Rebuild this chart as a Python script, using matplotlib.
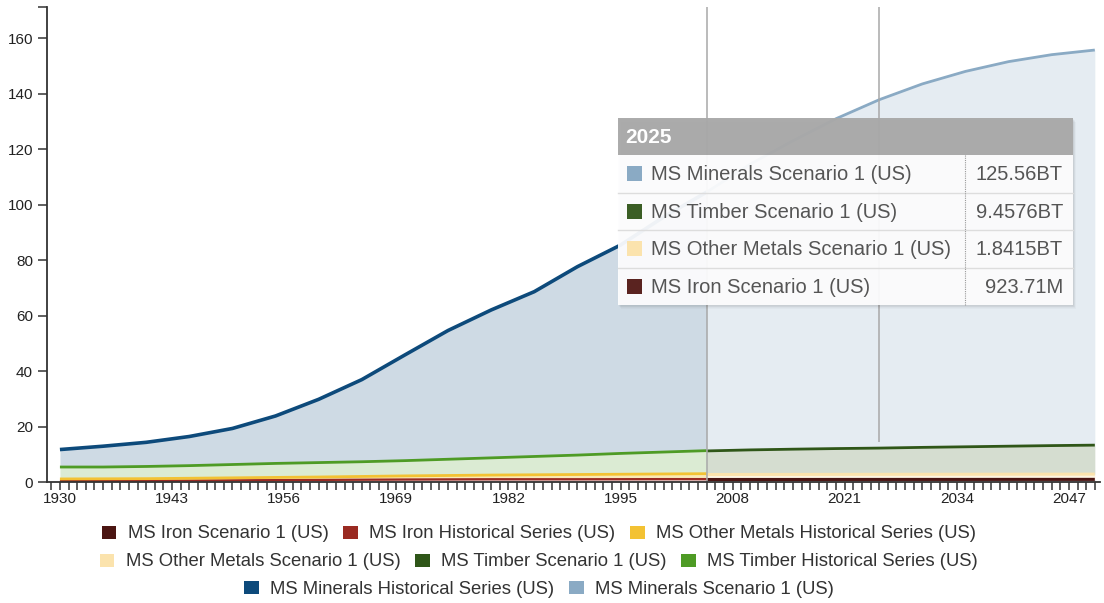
import matplotlib
matplotlib.use("Agg")
import matplotlib.pyplot as plt
from matplotlib.patches import Rectangle, Patch
from matplotlib.ticker import MultipleLocator, FixedLocator
import numpy as np

plt.rcParams["font.family"] = ["Liberation Sans", "DejaVu Sans"]

# historical series (1930-2005), billion tonnes
years_hist = [1930, 1935, 1940, 1945, 1950, 1955, 1960, 1965,
              1970, 1975, 1980, 1985, 1990, 1995, 2000, 2005]
iron_hist = [0.40, 0.42, 0.45, 0.50, 0.60, 0.68, 0.75, 0.82,
             0.90, 0.95, 1.00, 1.00, 1.00, 1.02, 1.05, 1.05]
other_hist = [0.70, 0.73, 0.75, 0.85, 0.90, 0.97, 1.05, 1.18,
              1.30, 1.40, 1.50, 1.60, 1.70, 1.78, 1.85, 1.95]
timber_hist = [4.30, 4.25, 4.40, 4.55, 4.80, 5.05, 5.20, 5.30,
               5.50, 5.85, 6.20, 6.60, 7.00, 7.50, 7.90, 8.30]
minerals_hist = [6.3, 7.5, 8.7, 10.5, 13.0, 17.1, 22.8, 29.6,
                 38.1, 46.4, 53.3, 59.4, 67.9, 75.1, 84.7, 93.2]

# scenario 1 (2005-2050)
years_scn = [2005, 2010, 2015, 2020, 2025, 2030, 2035, 2040, 2045, 2050]
iron_scn = [0.90, 0.91, 0.91, 0.92, 0.92371, 0.93, 0.93, 0.94, 0.94, 0.95]
other_scn = [1.80, 1.81, 1.82, 1.83, 1.8415, 1.85, 1.86, 1.87, 1.88, 1.89]
timber_scn = [8.50, 8.85, 9.10, 9.30, 9.4576, 9.70, 9.90, 10.10, 10.30, 10.45]
minerals_scn = [93.3, 102.9, 111.2, 118.9, 125.56, 131.0, 135.3, 138.6, 140.9, 142.4]

tooltip_year = 2025
boundary_year = 2005

C_IRON_SCN = "#4b1512"
C_IRON_HIST = "#9a2a22"
C_OTHER_HIST = "#f3c233"
C_OTHER_SCN = "#fbe3ad"
C_TIMBER_SCN = "#2f5618"
C_TIMBER_HIST = "#4e9b25"
C_MIN_HIST = "#0d4a7b"
C_MIN_SCN = "#8aaac4"
TEXT = "#333333"

fig = plt.figure(figsize=(11.04, 6.03), dpi=100)
ax = fig.add_axes([47 / 1104, 1 - 482 / 603, 1053 / 1104, 475 / 603])


def draw_stack(years, layers, colors, fill_alpha, widths):
    cum = np.cumsum(np.vstack(layers), axis=0)
    lower = np.zeros(len(years))
    for i, top in enumerate(cum):
        ax.fill_between(years, lower, top, color=colors[i],
                        alpha=fill_alpha[i], lw=0, zorder=1)
        lower = top
    for i, top in enumerate(cum):
        ax.plot(years, top, color=colors[i], lw=widths[i], zorder=3,
                solid_capstyle="butt", solid_joinstyle="round")


draw_stack(years_hist, [iron_hist, other_hist, timber_hist, minerals_hist],
           [C_IRON_HIST, C_OTHER_HIST, C_TIMBER_HIST, C_MIN_HIST],
           [0.25, 0.35, 0.2, 0.2], [1.6, 2.0, 2.0, 2.6])
draw_stack(years_scn, [iron_scn, other_scn, timber_scn, minerals_scn],
           [C_IRON_SCN, C_OTHER_SCN, C_TIMBER_SCN, C_MIN_SCN],
           [0.25, 0.35, 0.2, 0.22], [2.2, 2.2, 2.0, 2.0])

ymax = 171.2
ax.set_xlim(1928.5, 2050.6)
ax.set_ylim(0, ymax)

ax.axvline(boundary_year, color="#a8a8a8", lw=1.1, zorder=4)
ax.vlines(tooltip_year, 14.4, ymax, color="#a8a8a8", lw=1.1, zorder=4)

for s in ["top", "right"]:
    ax.spines[s].set_visible(False)
for s in ["left", "bottom"]:
    ax.spines[s].set_color(TEXT)
    ax.spines[s].set_linewidth(1.3)
    ax.spines[s].set_zorder(5)

ax.xaxis.set_major_locator(FixedLocator(list(range(1930, 2050, 13))))
ax.xaxis.set_minor_locator(MultipleLocator(1))
ax.yaxis.set_major_locator(FixedLocator(list(range(0, 161, 20)) + [ymax]))
ax.set_yticklabels([str(v) for v in range(0, 161, 20)] + [""])
ax.tick_params(axis="both", which="both", direction="out", color=TEXT,
               labelcolor="#222222", labelsize=11, width=1.1)
ax.tick_params(axis="x", which="both", length=6, pad=1.5)
ax.tick_params(axis="y", length=6.5, pad=3.5)
ax.set_facecolor("none")

# legend, three centred rows
rows = [
    [("MS Iron Scenario 1 (US)", C_IRON_SCN),
     ("MS Iron Historical Series (US)", C_IRON_HIST),
     ("MS Other Metals Historical Series (US)", C_OTHER_HIST)],
    [("MS Other Metals Scenario 1 (US)", C_OTHER_SCN),
     ("MS Timber Scenario 1 (US)", C_TIMBER_SCN),
     ("MS Timber Historical Series (US)", C_TIMBER_HIST)],
    [("MS Minerals Historical Series (US)", C_MIN_HIST),
     ("MS Minerals Scenario 1 (US)", C_MIN_SCN)],
]
row_y = [534, 562, 589]
for items, yy in zip(rows, row_y):
    handles = [Patch(facecolor=c, edgecolor="none") for _, c in items]
    labels = [t for t, _ in items]
    leg = fig.legend(handles, labels, loc="center",
                     bbox_to_anchor=(0.488, 1 - yy / 603), ncol=len(items),
                     frameon=False, fontsize=13.3, handlelength=0.8,
                     handleheight=0.7, handletextpad=0.6, columnspacing=0.8,
                     borderpad=0, borderaxespad=0)
    for t in leg.get_texts():
        t.set_color(TEXT)

# tooltip overlay in pixel space
ov = fig.add_axes([0, 0, 1, 1], zorder=10)
ov.set_xlim(0, 1104)
ov.set_ylim(603, 0)
ov.axis("off")

x0, x1, y0, yh, y1 = 618, 1073, 118, 155, 305
for k in range(1, 6):
    ov.add_patch(Rectangle((x0 + k * 0.6, y0 + k * 0.8), x1 - x0, y1 - y0,
                           facecolor="black", alpha=0.022, lw=0))
ov.add_patch(Rectangle((x0, yh), x1 - x0, y1 - yh, facecolor="#fdfdfe",
                       alpha=0.95, lw=0))
ov.add_patch(Rectangle((x0, y0), x1 - x0, yh - y0, facecolor="#a9a9a9",
                       alpha=0.97, lw=0))
ov.text(x0 + 7, (y0 + yh) / 2 + 1, str(tooltip_year), color="white",
        fontsize=15, fontweight="bold", va="center", ha="left")

idx = years_scn.index(tooltip_year)


def fmt(v):
    if v < 1:
        return "{:.5g}M".format(v * 1000)
    return "{:.5g}BT".format(v)


tip_rows = [("MS Minerals Scenario 1 (US)", C_MIN_SCN, minerals_scn[idx]),
            ("MS Timber Scenario 1 (US)", "#3b5e25", timber_scn[idx]),
            ("MS Other Metals Scenario 1 (US)", C_OTHER_SCN, other_scn[idx]),
            ("MS Iron Scenario 1 (US)", "#5a2320", iron_scn[idx])]
row_h = (y1 - yh) / len(tip_rows)
for i, (name, col, val) in enumerate(tip_rows):
    top = yh + i * row_h
    cy = top + row_h / 2
    if i > 0:
        ov.plot([x0, x1], [top, top], color="#dddddd", lw=1)
    ov.add_patch(Rectangle((627, cy - 7.5), 15, 15, facecolor=col, lw=0))
    ov.text(651, cy + 1, name, color="#555555", fontsize=14.5,
            va="center", ha="left")
    ov.text(1063, cy + 1, fmt(val), color="#555555", fontsize=14.5,
            va="center", ha="right")
ov.plot([965, 965], [yh, y1], color="#999999", lw=0.8, ls=(0, (1, 1)))

fig.savefig("out.png", dpi=100)
